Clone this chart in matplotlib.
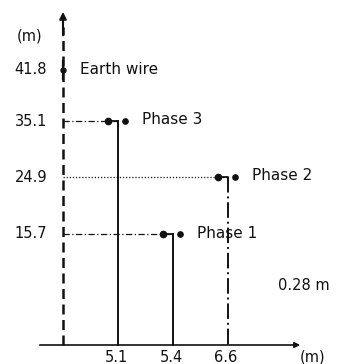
import numpy as np
import matplotlib
matplotlib.use("Agg")
import matplotlib.pyplot as plt
from matplotlib.transforms import offset_copy

# valeurs du schema (m)
phase_names = ["Phase 1", "Phase 2", "Phase 3"]
phase_x = [5.4, 6.6, 5.1]
phase_y = [15.7, 24.9, 35.1]
earth_y = 41.8
earth_name = "Earth wire"
y_ticks = [41.8, 35.1, 24.9, 15.7]
x_ticks = [5.1, 5.4, 6.6]
gap_label = "0.28 m"

# schema pas a l'echelle -> echelles par morceaux
XV = [-10, 0, 5.1, 5.4, 6.6, 20]
XP = [-37, 63, 118, 173, 228, 228 + 13.4 * 12]
YV = [-10, 0, 15.7, 24.9, 35.1, 41.8, 60]
YP = [19 - 70, 19, 130, 187, 243, 294, 294 + 18.2 * 7.6]


def fx(x):
    return np.interp(x, XV, XP)


def fx_inv(p):
    return np.interp(p, XP, XV)


def fy(y):
    return np.interp(y, YV, YP)


def fy_inv(p):
    return np.interp(p, YP, YV)


fig = plt.figure(figsize=(3.37, 3.64), dpi=100)
ax = fig.add_axes([0, 0, 1, 1])
ax.set_xscale("function", functions=(fx, fx_inv))
ax.set_yscale("function", functions=(fy, fy_inv))
ax.set_xlim(fx_inv(0), fx_inv(337))
ax.set_ylim(fy_inv(0), fy_inv(364))
ax.axis("off")

font = "DejaVu Sans"
col = "#111111"


def off(dx, dy):
    return offset_copy(ax.transData, fig=fig, x=dx, y=dy, units="dots")


# axe vertical (pointille epais) + fleche
ax.plot([0, 0], [0, 47.5], color=col, lw=1.8, dashes=(4, 2.2))
ax.annotate("", xy=(0, 0.975), xycoords=("data", "axes fraction"),
            xytext=(0, 46), textcoords="data",
            arrowprops=dict(arrowstyle="-|>", color=col, lw=1.5, mutation_scale=10))

# axe horizontal
ax.annotate("", xy=(303 / 337, 0), xycoords=("axes fraction", "data"),
            xytext=(37 / 337, 0), textcoords=("axes fraction", "data"),
            arrowprops=dict(arrowstyle="-|>", color=col, lw=1.2, mutation_scale=8))

# graduations
for v in y_ticks:
    ax.text(0, v, f"{v}", transform=off(-16, 0), ha="right", va="center",
            fontsize=10.5, family=font, color=col)
for v in x_ticks:
    ax.text(v, 0, f"{v}", transform=off(-2, -5), ha="center", va="top",
            fontsize=10.5, family=font, color=col)
fig.text(30 / 337, 1 - 36 / 364, "(m)", ha="center", va="center",
         fontsize=10.5, family=font, color=col)
fig.text(313 / 337, 1 - 357 / 364, "(m)", ha="center", va="center",
         fontsize=10.5, family=font, color=col)

# cable de garde
ax.plot([0, 0], [earth_y - 1.2, earth_y + 1.2], color=col, lw=1.6)
ax.plot([0], [earth_y], "o", color=col, ms=3.5)
ax.text(0, earth_y, earth_name, transform=off(17, 0), ha="left", va="center",
        fontsize=11, family=font, color=col)

# phases
lead_styles = {"Phase 1": (0, (5, 2, 1, 2)), "Phase 2": (0, (1, 1.5)), "Phase 3": (0, (5, 2, 1, 2))}
vert_styles = {"Phase 1": "-", "Phase 2": (0, (8, 2, 1, 2)), "Phase 3": "-"}
for name, x, y in zip(phase_names, phase_x, phase_y):
    ax.plot([0, x], [y, y], color=col, lw=0.9, linestyle=lead_styles[name])
    ax.plot([x, x], [y, 0], color=col, lw=1.4, linestyle=vert_styles[name])
    ax.annotate("", xy=(x, y), xytext=(-8, 0), textcoords="offset pixels",
                arrowprops=dict(arrowstyle="-", color=col, lw=1.3, shrinkA=0, shrinkB=0))
    ax.plot([x], [y], "o", color=col, ms=4.5, transform=off(-10, 0))
    ax.plot([x], [y], "o", color=col, ms=3.8, transform=off(7, 0))
    ax.text(x, y, name, transform=off(24, 1), ha="left", va="center",
            fontsize=11, family=font, color=col)

fig.text(278 / 337, 1 - 286 / 364, gap_label, ha="left", va="center",
         fontsize=10.5, family=font, color=col)

fig.savefig("out.png", dpi=100, facecolor="white")
